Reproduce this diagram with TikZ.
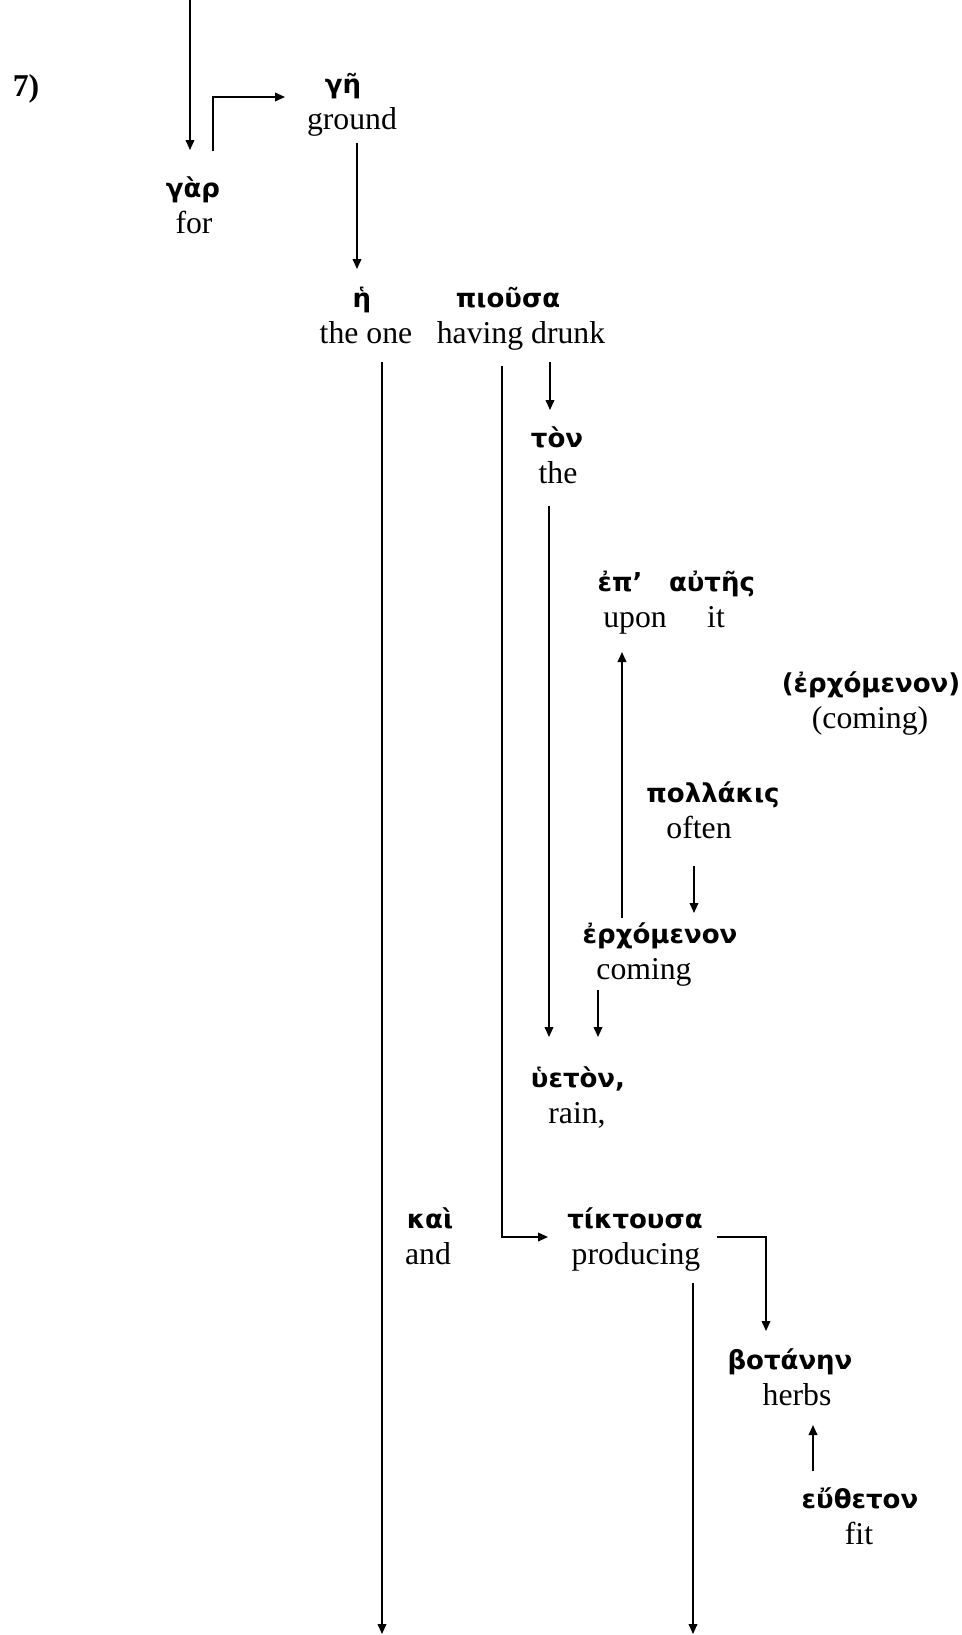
\documentclass[tikz,border=0pt]{standalone}
\usepackage{fontspec}
\setmainfont{Liberation Serif}
\newfontfamily\grk{DejaVu Sans}
\usetikzlibrary{arrows.meta,calc}
\begin{document}
\begin{tikzpicture}[x=0.75pt,y=-0.75pt,
  gw/.style={anchor=base,inner sep=0pt,font=\grk\bfseries\fontsize{19.5pt}{22pt}\selectfont},
  ew/.style={anchor=base,inner sep=0pt,font=\fontsize{23.8pt}{28pt}\selectfont},
  lbl/.style={anchor=base,inner sep=0pt,font=\bfseries\fontsize{23.8pt}{28pt}\selectfont},
  arr/.style={line width=1.2pt,-{Triangle[length=7.5pt,width=6.5pt]}}]
\useasboundingbox (0,0) rectangle (961,1635);
% labels
\node[lbl] (n7) at (26,96) {7)};
\node[gw] (g1) at (343,93) {γῆ};
\node[ew] (e1) at (352,129) {ground};
\node[gw] (g2) at (193,197) {γὰρ};
\node[ew] (e2) at (194,233) {for};
\node[gw] (g3) at (362,307) {ἡ};
\node[ew] (e3) at (366,343) {the one};
\node[gw] (g4) at (508,307) {πιοῦσα};
\node[ew] (e4) at (521,343) {having drunk};
\node[gw] (g5) at (557,447) {τὸν};
\node[ew] (e5) at (558,483) {the};
\node[gw] (g6a) at (620,591) {ἐπ’};
\node[gw] (g6b) at (712,591) {αὐτῆς};
\node[ew] (e6a) at (635,627) {upon};
\node[ew] (e6b) at (716,627) {it};
\node[gw] (g7) at (871,692) {(ἐρχόμενον)};
\node[ew] (e7) at (870,728) {(coming)};
\node[gw] (g8) at (713,802) {πολλάκις};
\node[ew] (e8) at (699,838) {often};
\node[gw] (g9) at (660,943) {ἐρχόμενον};
\node[ew] (e9) at (644,979) {coming};
\node[gw] (g10) at (578,1087) {ὑετὸν,};
\node[ew] (e10) at (577,1123) {rain,};
\node[gw] (g11) at (430,1228) {καὶ};
\node[ew] (e11) at (428,1264) {and};
\node[gw] (g12) at (635,1228) {τίκτουσα};
\node[ew] (e12) at (636,1264) {producing};
\node[gw] (g13) at (790,1369) {βοτάνην};
\node[ew] (e13) at (797,1405) {herbs};
\node[gw] (g14) at (860,1508) {εὔθετον};
\node[ew] (e14) at (859,1544) {fit};
% free ends
\coordinate (top) at (190,0);
\coordinate (bot1) at (382,1634);
\coordinate (bot2) at (693,1634);
% connectors
\draw[arr] (top) -- ($(g2.base)+(-3,-47)$);
\draw[arr] ($(g2.base)+(20,-46)$) |- ($(g1.base)+(-58,4)$);
\draw[arr] ($(e1.base)+(5,14)$) -- ($(g3.base)+(-5,-38)$);
\draw[arr] ($(e3.base)+(16,19)$) -- (bot1);
\draw[arr] ($(e4.base)+(-19,23)$) |- ($(g12.base)+(-87,9)$);
\draw[arr] ($(e4.base)+(29,19)$) -- ($(g5.base)+(-7,-37)$);
\draw[arr] ($(e5.base)+(-9,23)$) -- ($(g10.base)+(-29,-50)$);
\draw[arr] ($(g9.base)+(-38,-25)$) -- ($(e6a.base)+(-13,25)$);
\draw[arr] ($(e8.base)+(-5,28)$) -- ($(g9.base)+(34,-30)$);
\draw[arr] ($(e9.base)+(-46,11)$) -- ($(g10.base)+(20,-50)$);
\draw[arr] ($(g12.base)+(82,9)$) -| ($(g13.base)+(-24,-38)$);
\draw[arr] ($(e12.base)+(57,19)$) -- (bot2);
\draw[arr] ($(g14.base)+(-47,-37)$) -- ($(e13.base)+(16,20)$);
\end{tikzpicture}
\end{document}
